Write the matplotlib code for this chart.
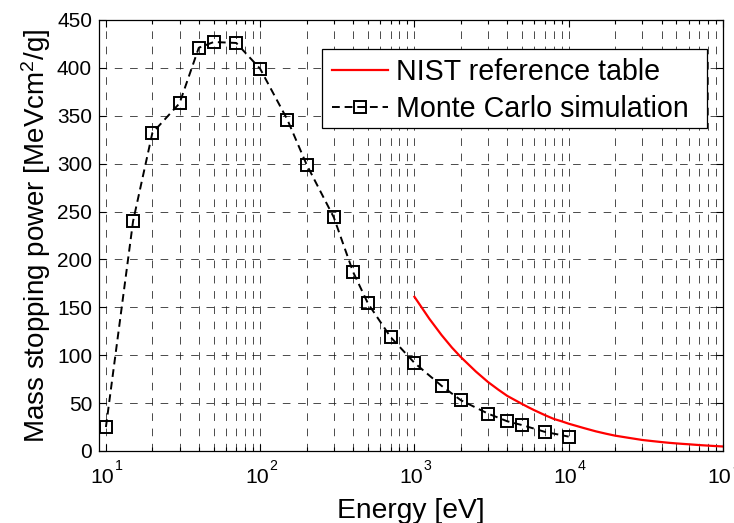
import numpy as np
import matplotlib
matplotlib.use("Agg")
import matplotlib.pyplot as plt
from matplotlib.patches import Rectangle
from matplotlib.ticker import LogLocator, MultipleLocator, NullFormatter

plt.rcParams["font.family"] = ["Liberation Sans", "DejaVu Sans"]
plt.rcParams["mathtext.fontset"] = "custom"
plt.rcParams["mathtext.rm"] = "Liberation Sans"
plt.rcParams["mathtext.it"] = "Liberation Sans:italic"
plt.rcParams["mathtext.bf"] = "Liberation Sans:bold"

# Monte Carlo simulation (energy in eV, stopping power in MeV cm^2/g)
mc_energy = [10, 15, 20, 30, 40, 50, 70, 100, 150, 200, 300, 400, 500, 700,
             1000, 1500, 2000, 3000, 4000, 5000, 7000, 10000]
mc_power = [25, 240, 332, 363, 421, 427, 426, 399, 346, 299, 244, 187, 154, 119,
            92, 68, 53, 39, 31, 27, 20, 15]

# NIST reference table
nist_energy = [1000, 1250, 1500, 1750, 2000, 2500, 3000, 3500, 4000, 4500, 5000,
               5500, 6000, 7000, 8000, 9000, 10000, 12500, 15000, 17500, 20000,
               25000, 30000, 35000, 40000, 45000, 50000, 55000, 60000, 70000,
               80000, 90000, 100000]
nist_power = [161, 138, 121, 108, 98, 83, 72, 64, 57.5, 53, 49, 45.5, 42.5, 37.5,
              33.5, 31, 28.5, 24, 20.5, 18, 16, 13.5, 11.5, 10.3, 9.3, 8.5, 7.9,
              7.4, 7.0, 6.2, 5.6, 5.1, 4.7]

# decade tick labels drawn MATLAB-style (base + raised exponent)
x_decades = [1, 2, 3, 4, 5]

fig = plt.figure(figsize=(7.34, 5.23), dpi=100)
ax = fig.add_axes([0.1349, 0.1377, 0.850, 0.8241])

ax.plot(nist_energy, nist_power, color="red", lw=1.6, label="NIST reference table")
ax.plot(mc_energy, mc_power, color="black", lw=1.4, ls=(0, (4, 2.5)),
        marker="s", markersize=8.5, mfc="none", mec="black", mew=1.4,
        label="Monte Carlo simulation")

ax.set_xscale("log")
ax.set_xlim(9.02, 1e5)
ax.set_ylim(0, 450)
ax.yaxis.set_major_locator(MultipleLocator(50))
ax.xaxis.set_major_locator(LogLocator(base=10, numticks=10))
ax.xaxis.set_minor_locator(LogLocator(base=10, subs=np.arange(2, 10), numticks=20))
ax.xaxis.set_major_formatter(NullFormatter())
ax.xaxis.set_minor_formatter(NullFormatter())

grid_kw = dict(color="0.1", lw=0.55, ls=(0, (10, 10)))
ax.grid(True, which="major", axis="both", **grid_kw)
ax.grid(True, which="minor", axis="x", **grid_kw)
ax.set_axisbelow(True)

ax.tick_params(which="both", direction="in", top=True, right=True, labelsize=15,
               width=0.8, pad=5)
ax.tick_params(which="major", length=5)
ax.tick_params(which="minor", length=3)
for s in ax.spines.values():
    s.set_linewidth(0.9)

for k in x_decades:
    ax.annotate("10", xy=(10.0 ** k, 0), xycoords=("data", "axes fraction"),
                xytext=(6.0, -23.3), textcoords="offset points",
                ha="right", va="baseline", fontsize=15.3, annotation_clip=False)
    ax.annotate(str(k), xy=(10.0 ** k, 0), xycoords=("data", "axes fraction"),
                xytext=(6.5, -13.7), textcoords="offset points",
                ha="left", va="baseline", fontsize=10.2, annotation_clip=False)

ax.set_xlabel("Energy [eV]", fontsize=20.3, va="top")
ax.xaxis.set_label_coords(0.5, -0.108)
ax.set_ylabel("Mass stopping power [MeVcm$^2$/g]", fontsize=20, labelpad=3)

# legend box is wider on the right than the entries need (as in the original)
ax.add_patch(Rectangle((0.3574, 0.7494), 0.6170, 0.1833, transform=ax.transAxes,
                       facecolor="white", edgecolor="black", lw=0.9, zorder=4))
leg = ax.legend(loc="upper left", bbox_to_anchor=(0.3734, 0.912), borderaxespad=0,
                fontsize=20.6, frameon=False, handlelength=1.95, handletextpad=0.3,
                borderpad=0, labelspacing=0.33)
leg.set_zorder(5)

fig.savefig("out.png", dpi=100)
